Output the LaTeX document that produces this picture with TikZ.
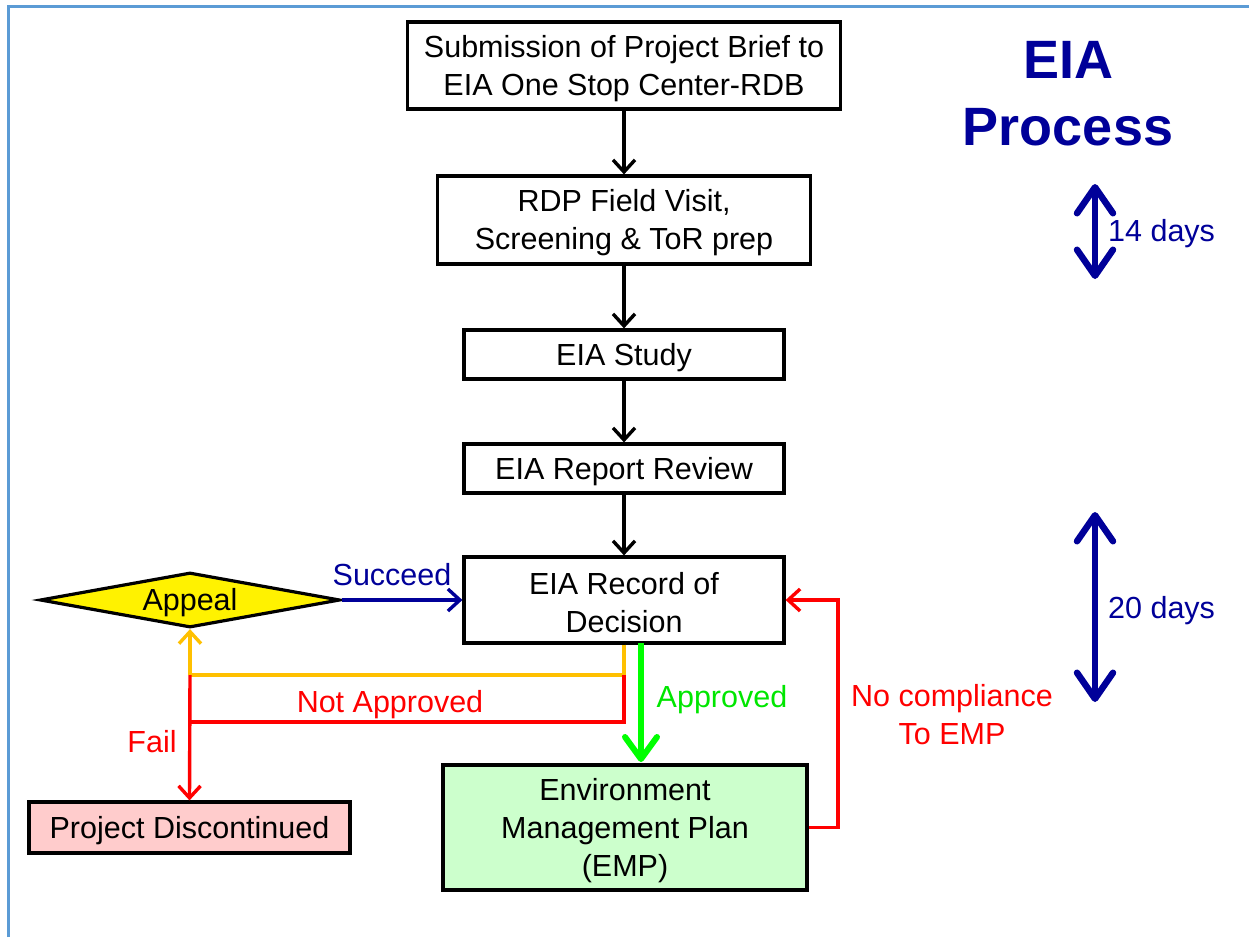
\documentclass[tikz,border=0pt]{standalone}
\usepackage{fontspec}
\setmainfont{Liberation Sans}
\usetikzlibrary{arrows.meta,shapes.geometric}
\definecolor{navy}{RGB}{0,0,153}
\definecolor{brd}{RGB}{91,155,213}
\definecolor{ylw}{RGB}{255,192,0}
\definecolor{grn}{RGB}{0,255,0}
\definecolor{grntxt}{RGB}{0,230,0}
\definecolor{lgreen}{RGB}{204,255,204}
\definecolor{lpink}{RGB}{255,204,204}
\begin{document}
\begin{tikzpicture}[x=1pt,y=-1pt,
  font=\fontsize{30.5}{38}\selectfont,
  box/.style={draw=black, line width=3.2pt, inner sep=0pt, fill=white},
  txt/.style={inner sep=0pt, align=center, yshift=-3pt},
  conn/.style={line width=3.4pt, -{Straight Barb[length=12pt,width=22pt]}},
  plain/.style={line width=3.4pt},
  lbl/.style={inner sep=0pt, align=center},
  bigarr/.style={line width=6.5pt, {Straight Barb[length=26pt,width=36pt,round]}-{Straight Barb[length=26pt,width=36pt,round]}}]
\useasboundingbox (0,0) rectangle (1249,937);
\draw[brd, line width=2.5pt] (8.5,937) -- (8.5,6.5) -- (1249,6.5);

% boxes
\node[box, minimum width=433pt, minimum height=87pt] (b1) at (624,65.5) {};
\node[txt] (b1t) at (b1.center) {Submission of Project Brief to\\EIA One Stop Center-RDB};
\node[box, minimum width=373pt, minimum height=88pt] (b2) at (624,220) {};
\node[txt] (b2t) at (b2.center) {RDP Field Visit,\\Screening \& ToR prep};
\node[box, minimum width=320pt, minimum height=49pt] (b3) at (624,354.5) {};
\node[txt] (b3t) at (b3.center) {EIA Study};
\node[box, minimum width=320pt, minimum height=49pt] (b4) at (624,468.5) {};
\node[txt] (b4t) at (b4.center) {EIA Report Review};
\node[box, minimum width=320pt, minimum height=86pt] (b5) at (624,600) {};
\node[txt] (b5t) at (b5.center) {EIA Record of\\Decision};
\node[box, fill=lgreen, minimum width=364pt, minimum height=125pt] (emp) at (625,827.5) {};
\node[txt] (empt) at (emp.center) {Environment\\Management Plan\\(EMP)};
\node[box, fill=lpink, minimum width=321pt, minimum height=51pt] (pd) at (189.5,827.5) {};
\node[txt] (pdt) at (pd.center) {Project Discontinued};
\node[diamond, draw=black, line width=3.2pt, fill=yellow, inner sep=0pt, aspect=5.45, minimum width=300pt, minimum height=55pt] (ap) at (190,600) {};
\node[txt] (apt) at (ap.center) {Appeal};

% title
\node[lbl, text=navy, font=\fontsize{54}{67}\selectfont\bfseries] (title) at (1068,94) {EIA\\Process};

% main flow
\draw[conn] (b1) -- (b2);
\draw[conn] (b2) -- (b3);
\draw[conn] (b3) -- (b4);
\draw[conn] (b4) -- (b5);

% appeal succeed
\draw[conn, navy] (ap.east) -- (b5.west);
\node[lbl, text=navy] (suc) at (392,575) {Succeed};

% coordinates
\coordinate (ya) at (624,675);
\coordinate (yb) at (190,675);
\coordinate (ra) at (624,722);
\coordinate (rb) at (190,722);
\draw[plain, ylw] (b5.south) -- (ya) -- (yb);
\draw[conn, ylw] (yb) -- (ap.south);
\draw[plain, red] (ya) -- (ra) -- (rb);
\draw[conn, red] (yb) -- (pd.north);
\node[lbl, text=red] (na) at (390,705) {Not Approved};
\node[lbl, text=red] (fail) at (152,742) {Fail};

% approved
\coordinate (ga) at (641,643);
\coordinate (gb) at (641,762);
\draw[line width=6pt, grn, -{Straight Barb[length=22pt,width=32pt,round]}] (ga) -- (gb);
\node[lbl, text=grntxt] (appr) at (722,700) {Approved};

% no compliance
\coordinate (nc1) at (838,827.5);
\coordinate (nc2) at (838,600);
\draw[conn, red] (emp.east) -- (nc1) -- (nc2) -- (b5.east);
\node[lbl, text=red] (nc) at (952,715) {No compliance\\To EMP};

% durations
\coordinate (d1a) at (1095,184);
\coordinate (d1b) at (1095,279);
\draw[bigarr, navy] (d1a) -- (d1b);
\node[lbl, text=navy, anchor=west] (d14) at (1108,234) {14 days};
\coordinate (d2a) at (1095,512);
\coordinate (d2b) at (1095,702);
\draw[bigarr, navy] (d2a) -- (d2b);
\node[lbl, text=navy, anchor=west] (d20) at (1108,611) {20 days};
\end{tikzpicture}
\end{document}
